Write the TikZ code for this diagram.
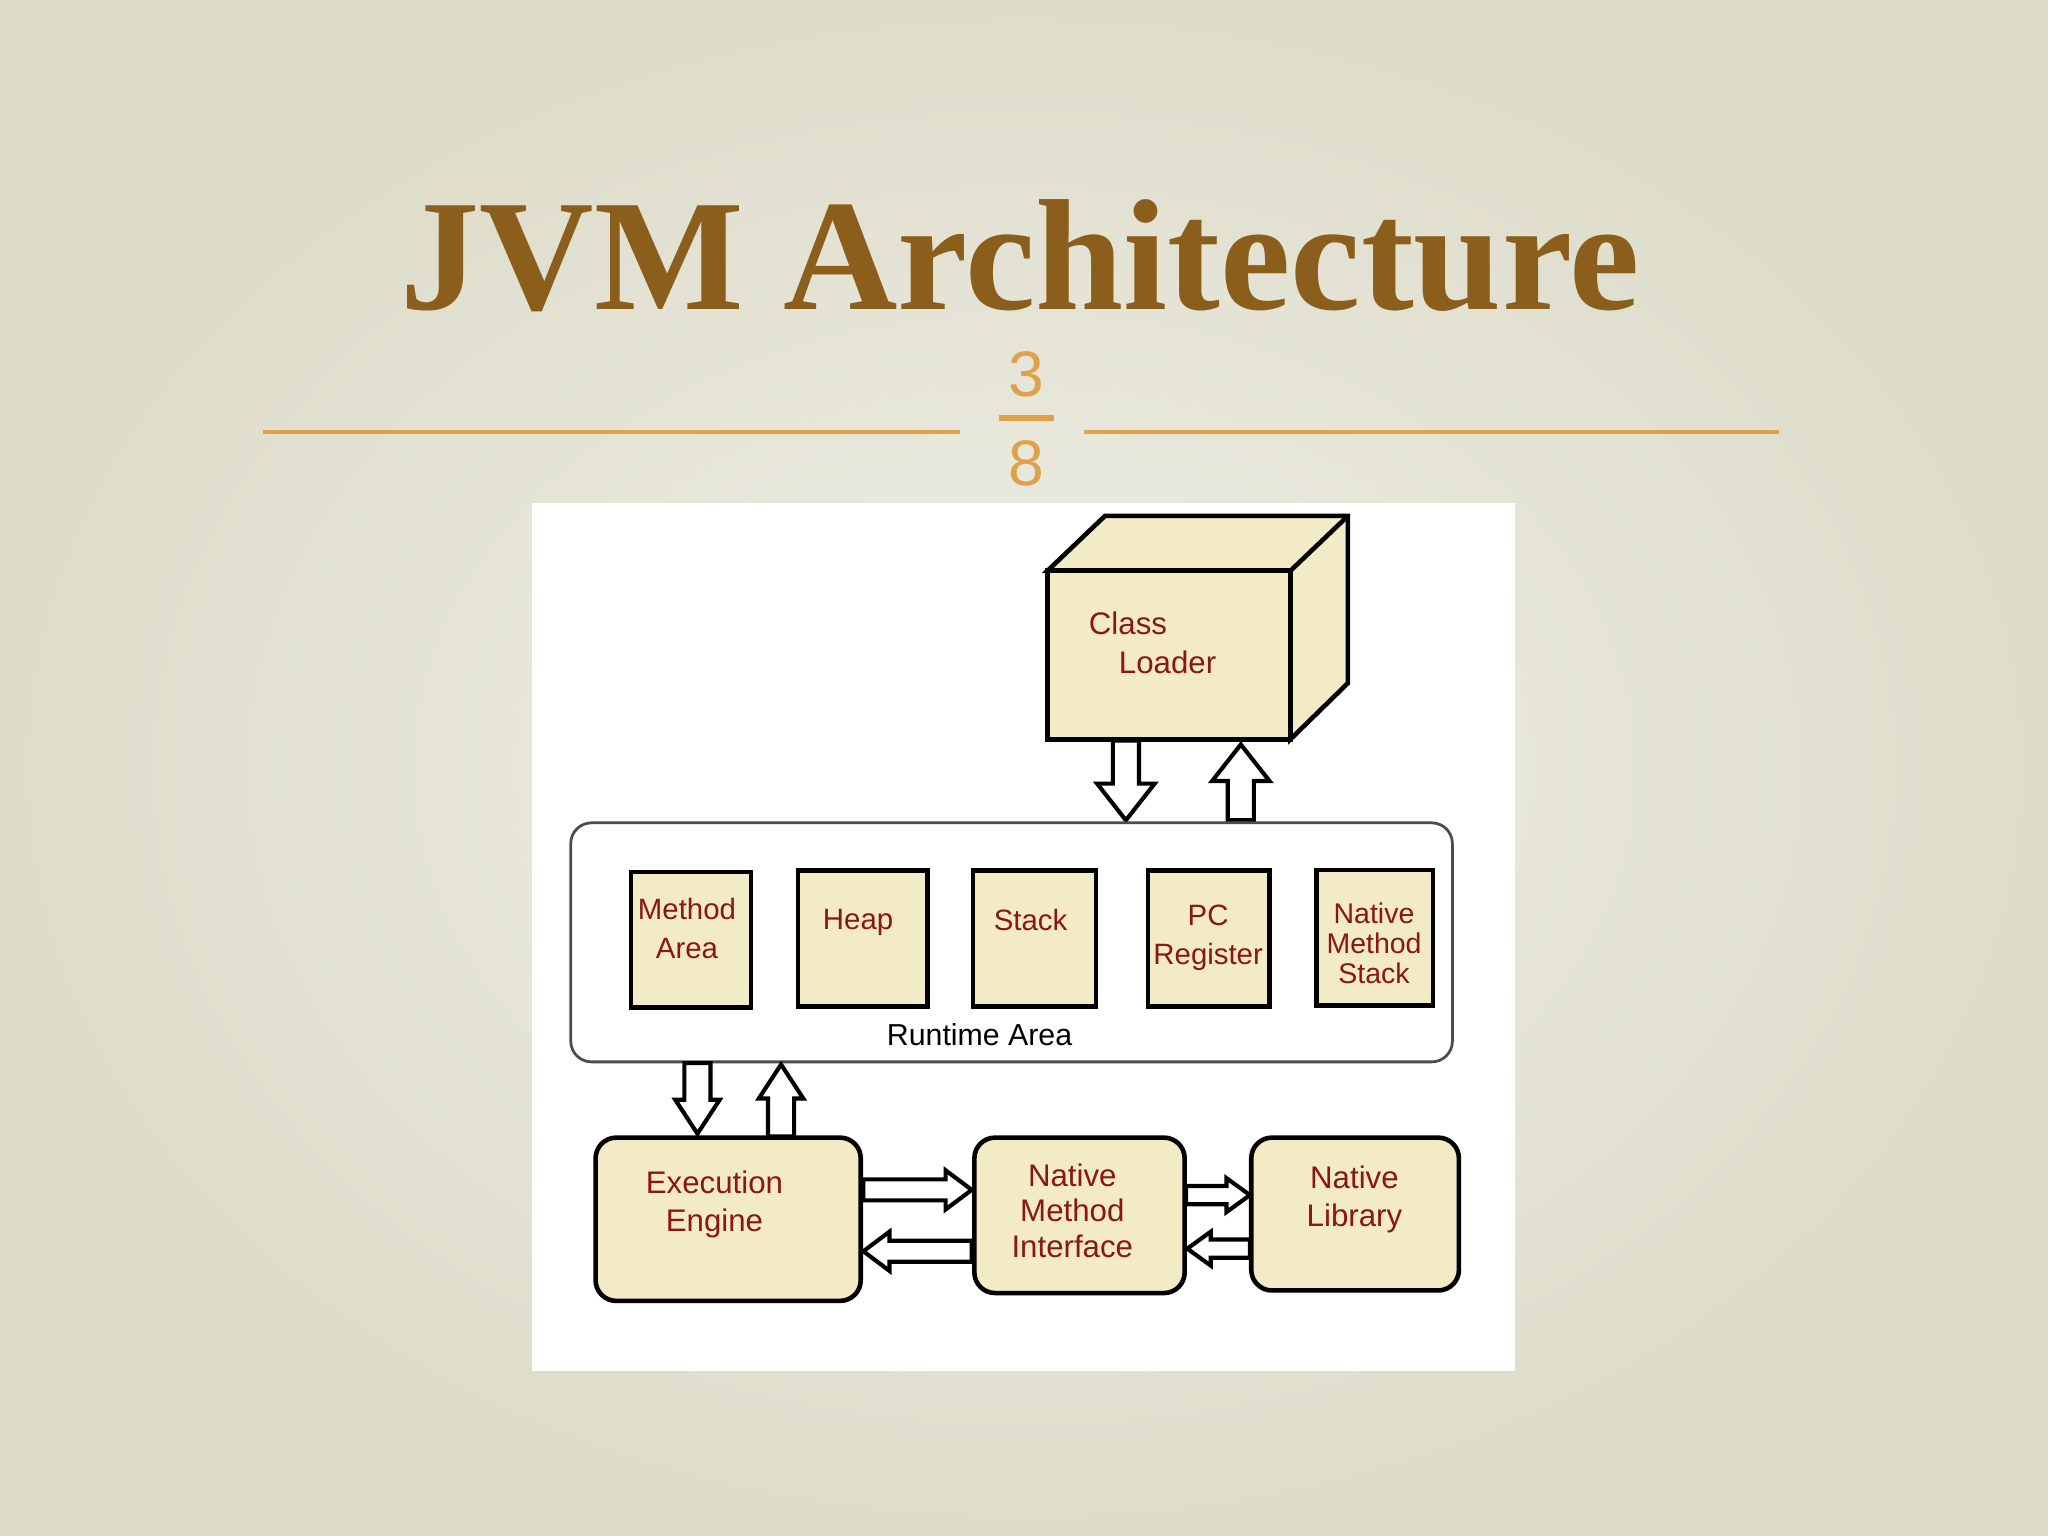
\documentclass[tikz,border=0pt]{standalone}
\usepackage{fontspec}
\setmainfont{Liberation Sans}
\newfontfamily\titlefont{Liberation Serif}
\definecolor{bgout}{HTML}{DEDDCB}
\definecolor{bgin}{HTML}{EEEEE6}
\definecolor{titlec}{HTML}{8C5E1C}
\definecolor{orng}{HTML}{DFA24A}
\definecolor{boxf}{HTML}{F3EBC6}
\definecolor{txtr}{HTML}{8A1616}
\tikzset{
 bx/.style={draw=black,line width=1pt,fill=boxf},
 rbx/.style={bx,rounded corners=4.5pt},
 lbl/.style={text=txtr,font=\fontsize{6.8pt}{7.8pt}\selectfont,align=center},
 arr/.style={draw=black,line width=0.9pt,fill=white},
}
\newcommand\vhollow[6]{% x y0 y1 shaft head len
 \pgfmathsetmacro\hs{(#3>#2)?1:-1}
 \pgfmathsetmacro\hy{#3-\hs*#6}
 \draw[arr] (#1-#4,#2) -- (#1-#4,\hy) -- (#1-#5,\hy) -- (#1,#3) -- (#1+#5,\hy) -- (#1+#4,\hy) -- (#1+#4,#2) -- cycle;}
\newcommand\hhollow[6]{% y x0 x1 shaft head len
 \pgfmathsetmacro\hs{(#3>#2)?1:-1}
 \pgfmathsetmacro\hx{#3-\hs*#6}
 \draw[arr] (#2,#1-#4) -- (\hx,#1-#4) -- (\hx,#1-#5) -- (#3,#1) -- (\hx,#1+#5) -- (\hx,#1+#4) -- (#2,#1+#4) -- cycle;}
\begin{document}
\begin{tikzpicture}[x=0.01cm,y=-0.01cm]
\useasboundingbox (0,0) rectangle (1568,1176);
\shade[inner color=bgin,outer color=bgout] (0,0) rectangle (1568,1176);
\node[text=titlec,font=\titlefont\bfseries\fontsize{34.5pt}{36pt}\selectfont] (title) at (781,196) {JVM Architecture};
\draw[orng,line width=0.8pt] (201,331) -- (735,331);
\draw[orng,line width=0.8pt] (830,331) -- (1362,331);
\node[text=orng,font=\fontsize{14pt}{14pt}\selectfont] (p3) at (786,287) {3};
\node[text=orng,font=\fontsize{14pt}{14pt}\selectfont] (p8) at (786,355) {8};
\draw[orng,line width=1.2pt] (765,320) -- (807,320);
\fill[white] (407,385) rectangle (1160,1050);
% class loader cube
\draw[bx] (802,437) -- (846,395) -- (1032,395) -- (1032,523) -- (988,566) -- (988,437) -- cycle;
\draw[bx] (988,437) -- (1032,395);
\node[bx,minimum width=186*0.01cm,minimum height=129*0.01cm,inner sep=0] (cl) at (895,501.5) {};
\node[lbl,anchor=west,inner sep=0] (clt1) at (833,477) {Class};
\node[lbl,anchor=west,inner sep=0] (clt2) at (856,507) {Loader};
\vhollow{862}{567}{628}{10}{22}{28}
\vhollow{950}{628}{570}{10}{22}{28}
% runtime area
\node[draw=black!70,line width=0.6pt,rounded corners=4.5pt,minimum width=675*0.01cm,minimum height=183*0.01cm] (rt) at (774.5,721.5) {};
\node[font=\fontsize{6.6pt}{7.8pt}\selectfont] (rtl) at (750,792) {Runtime Area};
\tikzset{mb/.style={bx,minimum height=104*0.01cm,inner sep=0}}
\node[mb,minimum width=92*0.01cm] (ma) at (529,719.5) {};
\node[lbl,font=\fontsize{6.4pt}{7.4pt}\selectfont] at (526,711) {Method\\[1pt]Area};
\node[mb,minimum width=99*0.01cm] (hp) at (660.5,718.5) {};
\node[lbl,font=\fontsize{6.4pt}{7.4pt}\selectfont] at (657,706) {Heap};
\node[mb,minimum width=94*0.01cm] (st) at (792,718.5) {};
\node[lbl,font=\fontsize{6.4pt}{7.4pt}\selectfont] at (789,704) {Stack};
\node[mb,minimum width=93*0.01cm] (pc) at (925.5,718.5) {};
\node[lbl,font=\fontsize{6.4pt}{7.4pt}\selectfont] at (925,718) {PC\\[1pt]Register};
\node[mb,minimum width=89*0.01cm] (nms) at (1052.5,718) {};
\node[lbl,font=\fontsize{6.2pt}{6.5pt}\selectfont] at (1052,722) {Native\\Method\\Stack};
\vhollow{534}{814}{868}{10}{17}{26}
\vhollow{598}{870}{815}{10}{17}{26}
% bottom row
\node[rbx,minimum width=203*0.01cm,minimum height=125*0.01cm] (ee) at (557.5,933.5) {};
\node[lbl] at (547,922) {Execution\\[0.5pt]Engine};
\node[rbx,minimum width=161*0.01cm,minimum height=119*0.01cm] (nmi) at (826.5,930.5) {};
\node[lbl] at (821,927) {Native\\Method\\Interface};
\node[rbx,minimum width=159*0.01cm,minimum height=117*0.01cm] (nl) at (1037.5,929.5) {};
\node[lbl] at (1037,918) {Native\\[0.5pt]Library};
\hhollow{911}{661}{744}{8}{15}{20}
\hhollow{958}{744}{661}{8}{15}{20}
\hhollow{915}{908}{957}{7}{13}{18}
\hhollow{956}{957}{909}{7}{13}{18}
\end{tikzpicture}
\end{document}
